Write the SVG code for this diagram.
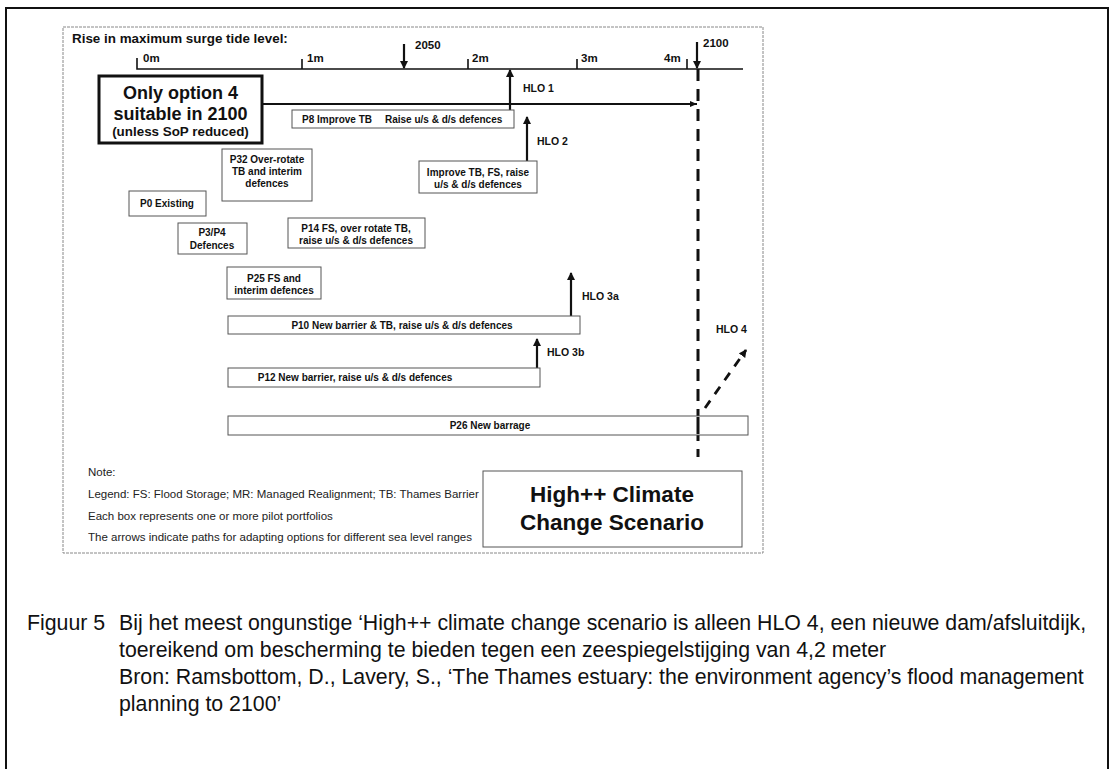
<svg xmlns="http://www.w3.org/2000/svg" width="1111" height="769" viewBox="0 0 1111 769">
<style>
.sb{font-family:"Liberation Sans",Arial,sans-serif;font-weight:bold;fill:#111}
.box{fill:#fff;stroke:#555;stroke-width:1}
.bt{font-family:"Liberation Sans",Arial,sans-serif;font-weight:bold;font-size:10px;fill:#111;text-anchor:middle}
.bts{font-family:"Liberation Sans",Arial,sans-serif;font-weight:bold;font-size:10px;fill:#111;text-anchor:start}
.lbl{font-family:"Liberation Sans",Arial,sans-serif;font-weight:bold;font-size:10.5px;fill:#111}
.ax{font-family:"Liberation Sans",Arial,sans-serif;font-weight:bold;font-size:11.5px;fill:#111}
.note{font-family:"Liberation Sans",Arial,sans-serif;font-size:11.5px;fill:#222}
.cap{font-family:"Liberation Sans",Arial,sans-serif;font-size:21.3px;fill:#111}
.arr{stroke:#111;stroke-width:2.2;fill:none}
</style>
<defs>
<marker id="ah" markerUnits="userSpaceOnUse" markerWidth="8" markerHeight="10" refX="7" refY="4" orient="auto">
<path d="M0,0 L8,4 L0,8 Z" fill="#111"/>
</marker>
<marker id="ahs" markerUnits="userSpaceOnUse" markerWidth="8" markerHeight="8" refX="7" refY="3" orient="auto">
<path d="M0,0 L7,3 L0,6 Z" fill="#111"/>
</marker>
</defs>
<rect x="0" y="0" width="1111" height="769" fill="#fff"/>
<rect id="frame" x="6" y="8" width="1102" height="775" fill="none" stroke="#111" stroke-width="2"/>
<rect id="figure-border" x="63" y="27" width="700" height="526" fill="none" stroke="#888" stroke-width="1" stroke-dasharray="3 1"/>

<g id="axis">
<text class="sb" x="72" y="43" font-size="13.4">Rise in maximum surge tide level:</text>
<path d="M137,58 L137,69 L743,69" stroke="#111" stroke-width="1.6" fill="none"/>
<path d="M302,59 V69 M468,59 V69 M577,59 V69 M687,59 V69" stroke="#111" stroke-width="1.6"/>
<text class="ax" x="143" y="62">0m</text>
<text class="ax" x="307" y="62">1m</text>
<text class="ax" x="472" y="62">2m</text>
<text class="ax" x="581" y="62">3m</text>
<text class="ax" x="664" y="62">4m</text>
<text class="ax" x="415" y="49">2050</text>
<text class="ax" x="703" y="47">2100</text>
</g>

<g id="connectors">
<line class="arr" x1="404" y1="44" x2="404" y2="68" marker-end="url(#ah)"/>
<line class="arr" x1="697" y1="42" x2="697" y2="68" marker-end="url(#ah)"/>
<line x1="698" y1="69" x2="698" y2="457" stroke="#111" stroke-width="3" stroke-dasharray="12 8"/>
<line x1="262" y1="104" x2="697" y2="104" stroke="#111" stroke-width="1.8" marker-end="url(#ahs)"/>
<line class="arr" x1="510" y1="110" x2="510" y2="70" marker-end="url(#ah)"/>
<line class="arr" x1="527" y1="161" x2="527" y2="117" marker-end="url(#ah)"/>
<line class="arr" x1="571" y1="316" x2="571" y2="273" marker-end="url(#ah)"/>
<line class="arr" x1="537" y1="368" x2="537" y2="339" marker-end="url(#ah)"/>
<line x1="705" y1="408" x2="746" y2="350" stroke="#111" stroke-width="2.8" stroke-dasharray="9 8" marker-end="url(#ah)"/>
<text class="lbl" x="523" y="92">HLO 1</text>
<text class="lbl" x="537" y="145">HLO 2</text>
<text class="lbl" x="582" y="300">HLO 3a</text>
<text class="lbl" x="547" y="356">HLO 3b</text>
<text class="lbl" x="716" y="333">HLO 4</text>
</g>

<g id="only-option">
<rect x="99" y="76" width="163" height="67" fill="#fff" stroke="#111" stroke-width="3"/>
<text class="sb" x="180.5" y="99" font-size="18" text-anchor="middle">Only option 4</text>
<text class="sb" x="180.5" y="120" font-size="18" text-anchor="middle">suitable in 2100</text>
<text class="sb" x="180.5" y="136" font-size="13.4" text-anchor="middle">(unless SoP reduced)</text>
</g>

<g id="p8">
<rect class="box" x="292" y="110" width="222" height="18"/>
<text class="bts" x="302" y="123">P8 Improve TB</text>
<text class="bts" x="385" y="123">Raise u/s &amp; d/s defences</text>
</g>

<g id="improve">
<rect class="box" x="419" y="161" width="118" height="32"/>
<text class="bt" x="478" y="176">Improve TB, FS,  raise</text>
<text class="bt" x="478" y="188">u/s &amp; d/s defences</text>
</g>

<g id="p32">
<rect class="box" x="222" y="149" width="90" height="52"/>
<text class="bt" x="267" y="163">P32 Over-rotate</text>
<text class="bt" x="267" y="175">TB and interim</text>
<text class="bt" x="267" y="187">defences</text>
</g>

<g id="p0">
<rect class="box" x="129" y="191" width="77" height="25"/>
<text class="bt" x="167" y="207">P0  Existing</text>
</g>

<g id="p3p4">
<rect class="box" x="178" y="223" width="69" height="31"/>
<text class="bt" x="212" y="236">P3/P4</text>
<text class="bt" x="212" y="249">Defences</text>
</g>

<g id="p14">
<rect class="box" x="288" y="218" width="137" height="30"/>
<text class="bt" x="356" y="232">P14 FS, over rotate TB,</text>
<text class="bt" x="356" y="244">raise u/s &amp; d/s defences</text>
</g>

<g id="p25">
<rect class="box" x="227" y="267" width="94" height="32"/>
<text class="bt" x="274" y="282">P25 FS and</text>
<text class="bt" x="274" y="294">interim defences</text>
</g>

<g id="p10">
<rect class="box" x="228" y="316" width="352" height="18"/>
<text class="bt" x="402" y="329">P10 New barrier &amp; TB, raise u/s &amp; d/s defences</text>
</g>

<g id="p12">
<rect class="box" x="228" y="368" width="312" height="19"/>
<text class="bt" x="355" y="381">P12 New barrier, raise u/s &amp; d/s defences</text>
</g>

<g id="p26">
<rect class="box" x="228" y="416" width="520" height="19"/>
<text class="bt" x="490" y="429">P26 New barrage</text>
<line x1="698" y1="417" x2="698" y2="434" stroke="#111" stroke-width="3"/>
</g>

<g id="notes">
<text class="note" x="88" y="476">Note:</text>
<text class="note" x="88" y="498">Legend: FS: Flood Storage; MR: Managed Realignment; TB: Thames Barrier</text>
<text class="note" x="88" y="520">Each box represents one or more pilot portfolios</text>
<text class="note" x="88" y="541">The arrows indicate paths for adapting options for different sea level ranges</text>
</g>

<g id="scenario">
<rect x="483" y="471" width="259" height="76" fill="#fff" stroke="#555" stroke-width="1"/>
<text class="sb" x="612" y="502" font-size="22.5" text-anchor="middle">High++ Climate</text>
<text class="sb" x="612" y="530" font-size="22.5" text-anchor="middle">Change Scenario</text>
</g>

<g id="caption">
<text class="cap" x="27" y="630">Figuur 5</text>
<text class="cap" x="119" y="630">Bij het meest ongunstige ‘High++ climate change scenario is alleen HLO 4, een nieuwe dam/afsluitdijk,</text>
<text class="cap" x="119" y="657">toereikend om bescherming te bieden tegen een zeespiegelstijging van 4,2 meter</text>
<text class="cap" x="119" y="684">Bron: Ramsbottom, D., Lavery, S., ‘The Thames estuary: the environment agency’s flood management</text>
<text class="cap" x="119" y="711">planning to 2100’</text>
</g>
</svg>
